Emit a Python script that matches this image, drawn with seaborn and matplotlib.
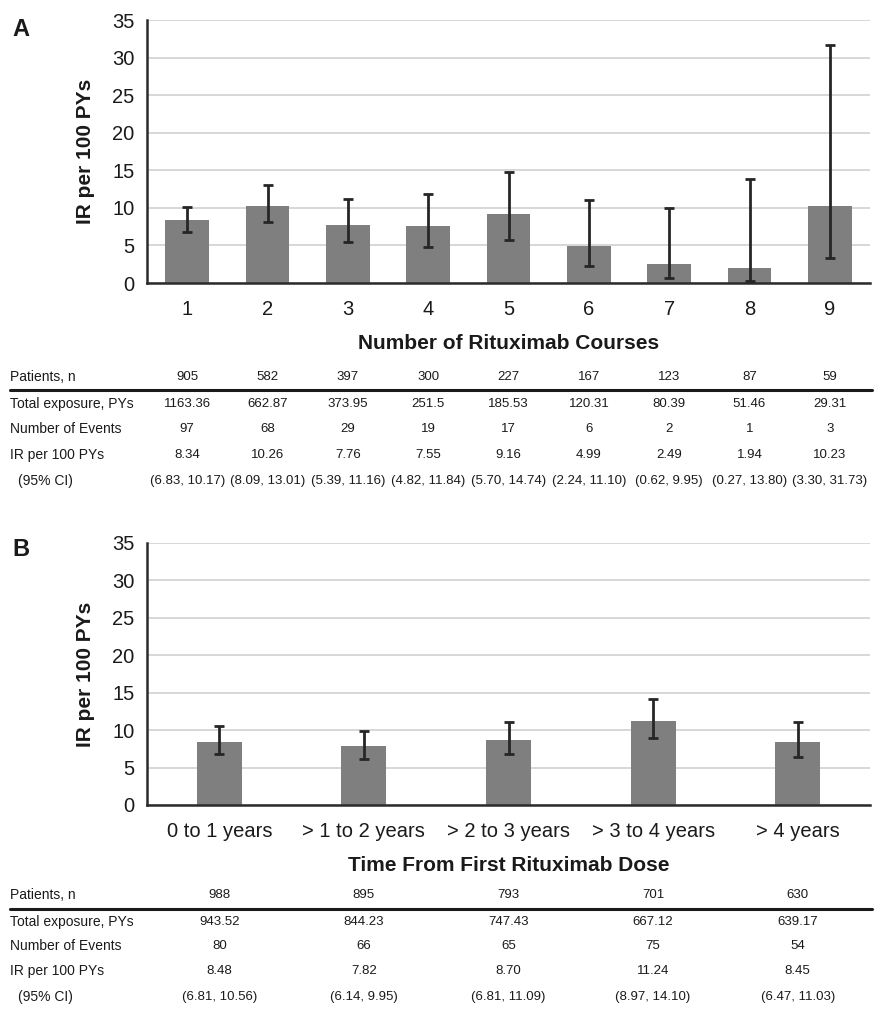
import matplotlib
matplotlib.use("Agg")
import matplotlib.pyplot as plt
import matplotlib.transforms as mtransforms
from matplotlib.lines import Line2D
import seaborn as sns
import pandas as pd

# ---------------- data ----------------
courses = ["1", "2", "3", "4", "5", "6", "7", "8", "9"]
ir_a = [8.34, 10.26, 7.76, 7.55, 9.16, 4.99, 2.49, 1.94, 10.23]
ci_lo_a = [6.83, 8.09, 5.39, 4.82, 5.70, 2.24, 0.62, 0.27, 3.30]
ci_hi_a = [10.17, 13.01, 11.16, 11.84, 14.74, 11.10, 9.95, 13.80, 31.73]
patients_a = ["905", "582", "397", "300", "227", "167", "123", "87", "59"]
exposure_a = ["1163.36", "662.87", "373.95", "251.5", "185.53", "120.31", "80.39", "51.46", "29.31"]
events_a = ["97", "68", "29", "19", "17", "6", "2", "1", "3"]

periods = ["0 to 1 years", "> 1 to 2 years", "> 2 to 3 years", "> 3 to 4 years", "> 4 years"]
ir_b = [8.48, 7.82, 8.70, 11.24, 8.45]
ci_lo_b = [6.81, 6.14, 6.81, 8.97, 6.47]
ci_hi_b = [10.56, 9.95, 11.09, 14.10, 11.03]
patients_b = ["988", "895", "793", "701", "630"]
exposure_b = ["943.52", "844.23", "747.43", "667.12", "639.17"]
events_b = ["80", "66", "65", "75", "54"]

row_labels = ["Patients, n", "Total exposure, PYs", "Number of Events", "IR per 100 PYs", "(95% CI)"]
y_ticks = [0, 5, 10, 15, 20, 25, 30, 35]

# ---------------- style ----------------
sns.set_theme(style="white")
plt.rcParams["font.family"] = ["Liberation Sans", "DejaVu Sans"]

W, H = 880, 1011
fig = plt.figure(figsize=(W / 100, H / 100), dpi=100)

BAR = "#7f7f7f"
ERR = "#262626"
GRID = "#d4d4d4"
SPINE = "#2b2b2b"
TXT = "#1a1a1a"


def fy(py):
    return 1 - py / H


def panel(top_px, bot_px, cats, ir, lo, hi, xlabel, bar_w):
    ax = fig.add_axes([147 / W, fy(bot_px), (870 - 147) / W, (bot_px - top_px) / H])
    df = pd.DataFrame({"cat": cats, "ir": ir})
    sns.barplot(data=df, x="cat", y="ir", color=BAR, saturation=1, width=bar_w,
                errorbar=None, ax=ax, order=cats, linewidth=0)
    xs = list(range(len(cats)))
    yerr = [[v - l for v, l in zip(ir, lo)], [h - v for v, h in zip(ir, hi)]]
    ax.errorbar(xs, ir, yerr=yerr, fmt="none", ecolor=ERR, elinewidth=2,
                capsize=3.5, capthick=2, zorder=5)
    ax.set_ylim(0, 35)
    ax.set_xlim(-0.5, len(cats) - 0.5)
    ax.set_yticks(y_ticks)
    ax.set_yticklabels([str(t) for t in y_ticks])
    ax.yaxis.grid(True, color=GRID, linewidth=1.3)
    ax.set_axisbelow(True)
    for s in ["top", "right"]:
        ax.spines[s].set_visible(False)
    for s in ["left", "bottom"]:
        ax.spines[s].set_color(SPINE)
        ax.spines[s].set_linewidth(1.8)
    ax.tick_params(axis="both", length=0, labelsize=14.5, colors=TXT, pad=9)
    ax.tick_params(axis="x", pad=12)
    ax.set_ylabel("IR per 100 PYs", fontsize=15, fontweight="bold", labelpad=12, color=TXT)
    ax.set_xlabel(xlabel, fontsize=15, fontweight="bold", labelpad=11, color=TXT)
    return ax


def table(ax, row_ys, line_y, patients, exposure, events, ir, lo, hi):
    trans = mtransforms.blended_transform_factory(ax.transData, fig.transFigure)
    rows = [patients, exposure, events,
            [f"{v:.2f}" for v in ir],
            [f"({l:.2f}, {h:.2f})" for l, h in zip(lo, hi)]]
    for i, (lab, vals) in enumerate(zip(row_labels, rows)):
        x0 = 18 if i == 4 else 10
        fig.text(x0 / W, fy(row_ys[i]), lab, fontsize=10, ha="left", va="center", color=TXT)
        for j, v in enumerate(vals):
            ax.text(j, fy(row_ys[i]), v, transform=trans, fontsize=9.5,
                    ha="center", va="center", color=TXT)
    fig.add_artist(Line2D([10 / W, 872 / W], [fy(line_y), fy(line_y)],
                          transform=fig.transFigure, color=TXT, linewidth=2.2))


axA = panel(20, 283, courses, ir_a, ci_lo_a, ci_hi_a, "Number of Rituximab Courses", 0.54)
table(axA, [377, 404, 429, 455, 481], 389.5, patients_a, exposure_a, events_a, ir_a, ci_lo_a, ci_hi_a)

axB = panel(543, 805, periods, ir_b, ci_lo_b, ci_hi_b, "Time From First Rituximab Dose", 0.31)
table(axB, [895, 922, 946, 971, 997], 909, patients_b, exposure_b, events_b, ir_b, ci_lo_b, ci_hi_b)

fig.text(12 / W, fy(30), "A", fontsize=17, fontweight="bold", ha="left", va="center", color=TXT)
fig.text(12 / W, fy(549), "B", fontsize=17, fontweight="bold", ha="left", va="center", color=TXT)

fig.savefig("out.png", dpi=100, facecolor="white")
